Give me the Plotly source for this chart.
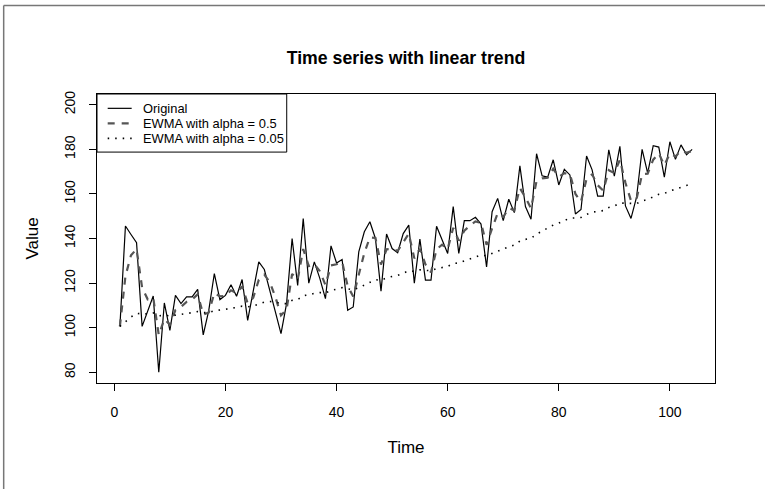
import plotly.graph_objects as go

# values, t = 1..104
time = list(range(1, 105))
original = [
    100.6, 145.6, 141.8, 138.1, 100.6, 107.5, 114.2, 80.0, 111.1, 98.8,
    114.5, 110.8, 113.8, 113.8, 117.2, 96.8, 107.8, 124.3, 112.6, 114.5,
    119.3, 114.1, 121.6, 103.3, 116.0, 129.5, 126.1, 117.0, 107.0, 97.3,
    110.8, 140.0, 119.0, 149.0, 120.0, 129.5, 122.0, 113.0, 136.7, 129.0,
    130.6, 107.8, 109.3, 134.0, 143.0, 147.5, 140.0, 116.4, 142.0, 135.5,
    133.6, 142.2, 146.0, 120.0, 139.7, 121.3, 121.3, 145.5, 139.3, 133.3,
    154.3, 133.3, 148.0, 148.0, 149.5, 146.5, 127.3, 152.0, 158.0, 148.0,
    157.6, 151.6, 172.6, 154.3, 148.6, 178.0, 168.1, 167.5, 175.3, 164.0,
    171.0, 168.5, 151.0, 153.0, 177.0, 170.8, 159.0, 159.0, 179.8, 168.0,
    181.3, 154.6, 149.0, 158.5, 180.0, 169.3, 181.6, 181.0, 167.5, 183.4,
    175.5, 182.0, 177.5, 180.0,
]
alphas = [0.5, 0.05]
legend_labels = ["Original", "EWMA with alpha = 0.5", "EWMA with alpha = 0.05"]


def ewma(values, alpha):
    out = [values[0]]
    for v in values[1:]:
        out.append(alpha * v + (1 - alpha) * out[-1])
    return out


font = "Liberation Sans, Arial, Helvetica, sans-serif"
styles = [
    dict(color="black", width=1.2),
    dict(color="#555555", width=2.2, dash="7px,7px"),
    dict(color="black", width=1.6, dash="1.5px,6px"),
]

fig = go.Figure()
series = [original, ewma(original, alphas[0]), ewma(original, alphas[1])]
for name, ys, st in zip(legend_labels, series, styles):
    fig.add_trace(go.Scatter(x=time, y=ys, mode="lines", name=name, line=st))

fig.update_layout(
    width=765, height=489,
    margin=dict(l=97, r=50, t=94, b=106),
    paper_bgcolor="white", plot_bgcolor="white",
    font=dict(family=font, size=14, color="black"),
    title=dict(text="<b>Time series with linear trend</b>", x=0.5, xref="paper",
               y=1 - 58 / 489, yref="container", yanchor="middle",
               font=dict(size=17.7)),
    showlegend=False,
    xaxis=dict(range=[-3.12, 108.12], tickvals=[0, 20, 40, 60, 80, 100],
               showgrid=False, zeroline=False, showline=True, mirror=True,
               linecolor="black", linewidth=1, ticks="outside", ticklen=7,
               tickcolor="black", ticklabelstandoff=9,
               title=dict(text="Time", standoff=22)),
    yaxis=dict(range=[75.2, 204.8], tickvals=[80, 100, 120, 140, 160, 180, 200],
               showgrid=False, zeroline=False, showline=True, mirror=True,
               linecolor="black", linewidth=1, ticks="outside", ticklen=7,
               tickcolor="black", tickangle=-90, ticklabelstandoff=8,
               title=dict(text="Value", standoff=19)),
)

# legend box drawn like R's legend()
fig.add_shape(type="rect", xref="paper", yref="paper",
              x0=0, x1=0.307, y0=0.799, y1=1,
              line=dict(color="black", width=1), fillcolor="white", layer="above")
for i, (label, st) in enumerate(zip(legend_labels, styles)):
    yp = 0.9504 - i * 0.052
    fig.add_shape(type="line", xref="paper", yref="paper",
                  x0=0.0173, x1=0.0561, y0=yp, y1=yp, line=st, layer="above")
    fig.add_annotation(text=label, xref="paper", yref="paper", x=0.0718, y=yp,
                       xanchor="left", yanchor="middle", showarrow=False,
                       font=dict(size=12.9))

# thin grey frame at the top-left edge of the picture
fig.add_shape(type="line", xref="paper", yref="paper",
              x0=-0.151, x1=1.09, y0=1.3066, y1=1.3066,
              line=dict(color="#777777", width=1.5))
fig.add_shape(type="line", xref="paper", yref="paper",
              x0=-0.151, x1=-0.151, y0=1.3066, y1=-0.4,
              line=dict(color="#777777", width=1.5))

fig.write_html("out.html", config={"displayModeBar": False},
               post_script="document.body.style.margin='0';")
